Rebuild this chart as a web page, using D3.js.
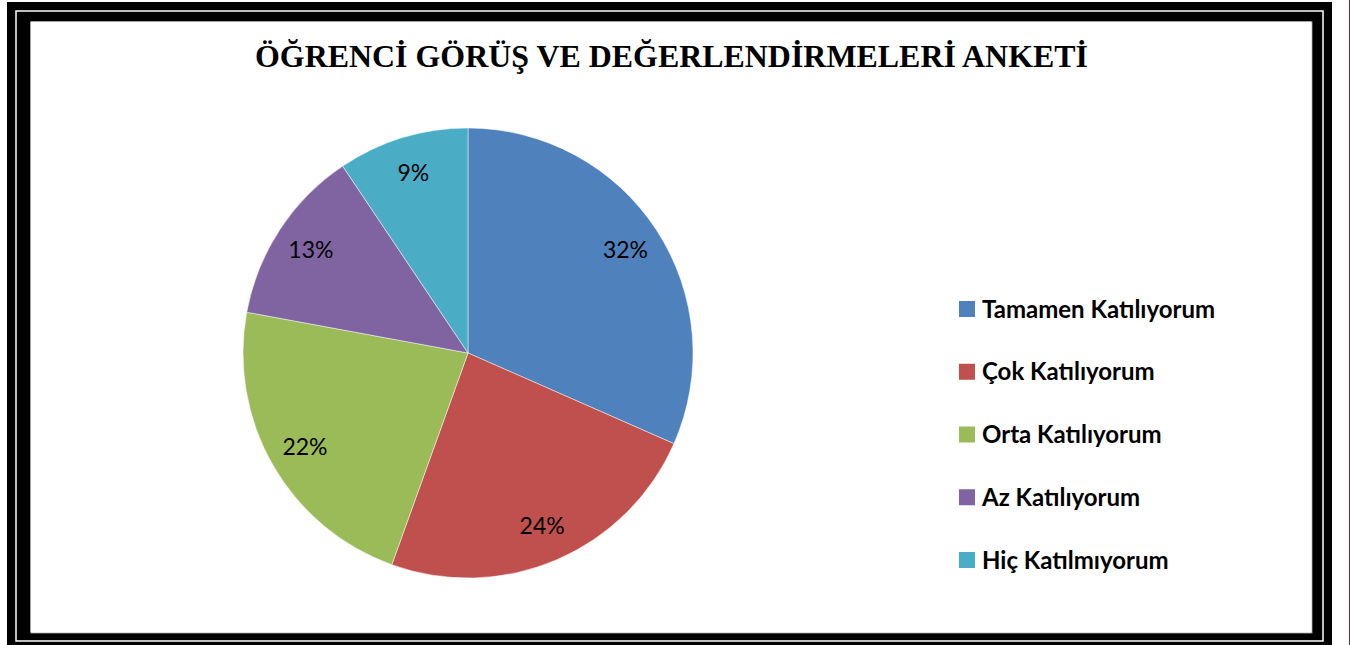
<!DOCTYPE html>
<html>
<head>
<meta charset="utf-8">
<script src="https://cdn.jsdelivr.net/npm/d3@7"></script>
<style>
  body { margin: 0; background: #fff; }
  svg { display: block; }
</style>
</head>
<body>
<script>
const width = 1350;
const height = 645;

// survey answers, share of students (%)
const categories = ["Tamamen Katılıyorum", "Çok Katılıyorum", "Orta Katılıyorum", "Az Katılıyorum", "Hiç Katılmıyorum"];
const values = [31.6, 23.9, 22.4, 12.7, 9.4];
const colors = ["#4F81BD", "#C0504D", "#9BBB59", "#8064A2", "#4BACC6"];
const title = "ÖĞRENCİ GÖRÜŞ VE DEĞERLENDİRMELERİ ANKETİ";

const svg = d3.select("body").append("svg")
    .attr("width", width)
    .attr("height", height);

// frame
svg.append("line")
    .attr("x1", 1349.5).attr("x2", 1349.5)
    .attr("y1", 0).attr("y2", height)
    .style("stroke", "#7a2a2a")
    .style("stroke-width", 1);

svg.append("rect")
    .attr("x", 7).attr("y", 2)
    .attr("width", 1325).attr("height", 660)
    .style("fill", "#000");

svg.append("rect")
    .attr("x", 16).attr("y", 11)
    .attr("width", 1307).attr("height", 630)
    .style("fill", "none")
    .style("stroke", "#fff")
    .style("stroke-width", 1.5);

svg.append("rect")
    .attr("x", 31).attr("y", 22)
    .attr("width", 1281).attr("height", 611)
    .style("fill", "#fff")
    .style("stroke", "#8a8a8a")
    .style("stroke-width", 1);

svg.append("rect")
    .attr("x", 30.5).attr("y", 21.5)
    .attr("width", 1281).attr("height", 611)
    .style("fill", "#fff");

// title
svg.append("text")
    .attr("x", 671.5)
    .attr("y", 67)
    .attr("text-anchor", "middle")
    .attr("textLength", 833)
    .attr("lengthAdjust", "spacingAndGlyphs")
    .style("font-family", "'Liberation Serif', 'Times New Roman', serif")
    .style("font-weight", "bold")
    .style("font-size", "32px")
    .text(title);

// pie
const cx = 468, cy = 353, radius = 225;

const pie = d3.pie().sort(null).value(d => d);
const arcs = pie(values);

const arc = d3.arc().innerRadius(0).outerRadius(radius);
const labelArc = d3.arc().innerRadius(188).outerRadius(188);

const g = svg.append("g").attr("transform", `translate(${cx},${cy})`);

g.selectAll("path")
    .data(arcs)
    .enter()
    .append("path")
    .attr("d", arc)
    .style("fill", (d, i) => colors[i])
    .style("stroke", "#fff")
    .style("stroke-opacity", 0.6)
    .style("stroke-width", 0.8);

const total = d3.sum(values);

g.selectAll("text")
    .data(arcs)
    .enter()
    .append("text")
    .attr("x", d => labelArc.centroid(d)[0])
    .attr("y", d => labelArc.centroid(d)[1])
    .attr("dy", "0.35em")
    .attr("text-anchor", "middle")
    .style("font-family", "Lato, 'Open Sans', sans-serif")
    .style("font-size", "23px")
    .style("fill", "#000")
    .text(d => `${Math.round(d.data / total * 100)}%`);

// legend
const legendY = d3.scalePoint()
    .domain(categories)
    .range([309, 560]);

const legend = svg.append("g")
    .selectAll("g")
    .data(categories)
    .enter()
    .append("g")
    .attr("transform", d => `translate(959,${legendY(d)})`);

legend.append("rect")
    .attr("x", 0).attr("y", -8)
    .attr("width", 16).attr("height", 16)
    .style("fill", (d, i) => colors[i]);

legend.append("text")
    .attr("x", 23)
    .attr("dy", "0.36em")
    .style("font-family", "Lato, 'Open Sans', sans-serif")
    .style("font-weight", "bold")
    .style("font-size", "24px")
    .style("fill", "#000")
    .text(d => d);
</script>
</body>
</html>
